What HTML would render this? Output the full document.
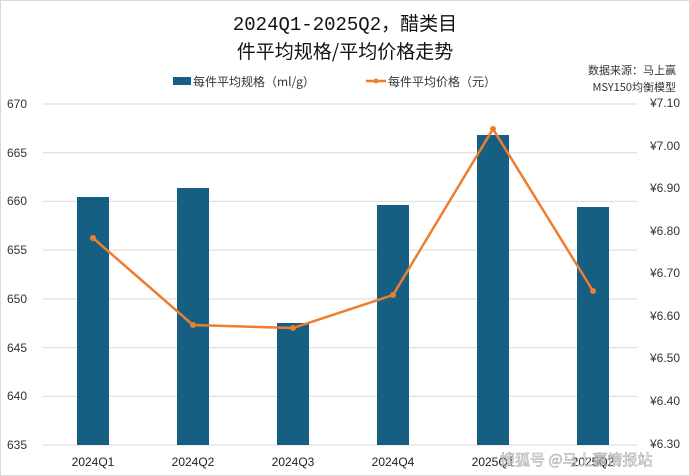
<!DOCTYPE html>
<html><head><meta charset="utf-8"><style>
body{margin:0;background:#fff}
svg{display:block;font-family:"Liberation Sans","Noto Sans CJK SC",sans-serif}
</style></head><body>
<svg width="690" height="476" viewBox="0 0 690 476">
<rect x="0.5" y="0.5" width="689" height="475" fill="#fff" stroke="#d9d9d9"/>
<text x="345" y="30" text-anchor="middle" font-size="19" fill="#111" font-family="'Liberation Mono','Noto Sans CJK SC',monospace">2024Q1-2025Q2，醋类目</text>
<text x="345" y="58" text-anchor="middle" font-size="19" fill="#111" font-family="'Noto Sans CJK SC',sans-serif">件平均规格/平均价格走势</text>
<text x="676" y="74" text-anchor="end" font-size="11" fill="#333" font-family="'Noto Sans CJK SC',sans-serif">数据来源：马上赢</text>
<text x="676" y="91" text-anchor="end" font-size="11" fill="#333" font-family="'Noto Sans CJK SC',sans-serif">MSY150均衡模型</text>
<rect x="173" y="77" width="18" height="8" fill="#175f82"/>
<text x="193" y="86" font-size="12" fill="#333" font-family="'Noto Sans CJK SC',sans-serif">每件平均规格（ml/g）</text>
<line x1="366" y1="81" x2="386" y2="81" stroke="#ed7d31" stroke-width="2.5"/>
<circle cx="376" cy="81" r="2.5" fill="#ed7d31"/>
<text x="388" y="86" font-size="12" fill="#333" font-family="'Noto Sans CJK SC',sans-serif">每件平均价格（元）</text>
<g stroke="#d9d9d9" stroke-width="1">
<line x1="43" y1="104" x2="637" y2="104"/><line x1="43" y1="152.7" x2="637" y2="152.7"/>
<line x1="43" y1="201.4" x2="637" y2="201.4"/><line x1="43" y1="250.1" x2="637" y2="250.1"/>
<line x1="43" y1="298.9" x2="637" y2="298.9"/><line x1="43" y1="347.6" x2="637" y2="347.6"/>
<line x1="43" y1="396.3" x2="637" y2="396.3"/><line x1="43" y1="445" x2="637" y2="445"/>
</g>
<g font-size="12" fill="#333" text-anchor="start">
<text x="7" y="108">670</text><text x="7" y="157">665</text><text x="7" y="205">660</text>
<text x="7" y="254">655</text><text x="7" y="303">650</text><text x="7" y="352">645</text>
<text x="7" y="400">640</text><text x="7" y="449">635</text>
</g>
<g font-size="12" fill="#333" text-anchor="start">
<text x="650" y="107">¥7.10</text><text x="650" y="150">¥7.00</text><text x="650" y="192">¥6.90</text>
<text x="650" y="235">¥6.80</text><text x="650" y="277">¥6.70</text><text x="650" y="320">¥6.60</text>
<text x="650" y="362">¥6.50</text><text x="650" y="405">¥6.40</text><text x="650" y="448">¥6.30</text>
</g>
<g fill="#175f82">
<rect x="77" y="197" width="32" height="248"/>
<rect x="177" y="188" width="32" height="257"/>
<rect x="277" y="323" width="32" height="122"/>
<rect x="377" y="205" width="32" height="240"/>
<rect x="477" y="135" width="32" height="310"/>
<rect x="577" y="207" width="32" height="238"/>
</g>
<polyline points="93,238 193,325 293,328 393,295 493,129 593,291" fill="none" stroke="#ed7d31" stroke-width="2.5"/>
<g fill="#ed7d31">
<circle cx="93" cy="238" r="3"/><circle cx="193" cy="325" r="3"/><circle cx="293" cy="328" r="3"/>
<circle cx="393" cy="295" r="3"/><circle cx="493" cy="129" r="3"/><circle cx="593" cy="291" r="3"/>
</g>
<g font-size="12" fill="#222" text-anchor="middle">
<text x="93" y="466">2024Q1</text><text x="193" y="466">2024Q2</text><text x="293" y="466">2024Q3</text>
<text x="393" y="466">2024Q4</text><text x="493" y="466">2025Q1</text><text x="593" y="466">2025Q2</text>
</g>
<text x="500" y="465" font-size="15" fill="#fff" stroke="#999" stroke-width="0.6" font-family="'Noto Sans CJK SC',sans-serif" opacity="0.85">搜狐号 @马上赢情报站</text>
</svg>
</body></html>
